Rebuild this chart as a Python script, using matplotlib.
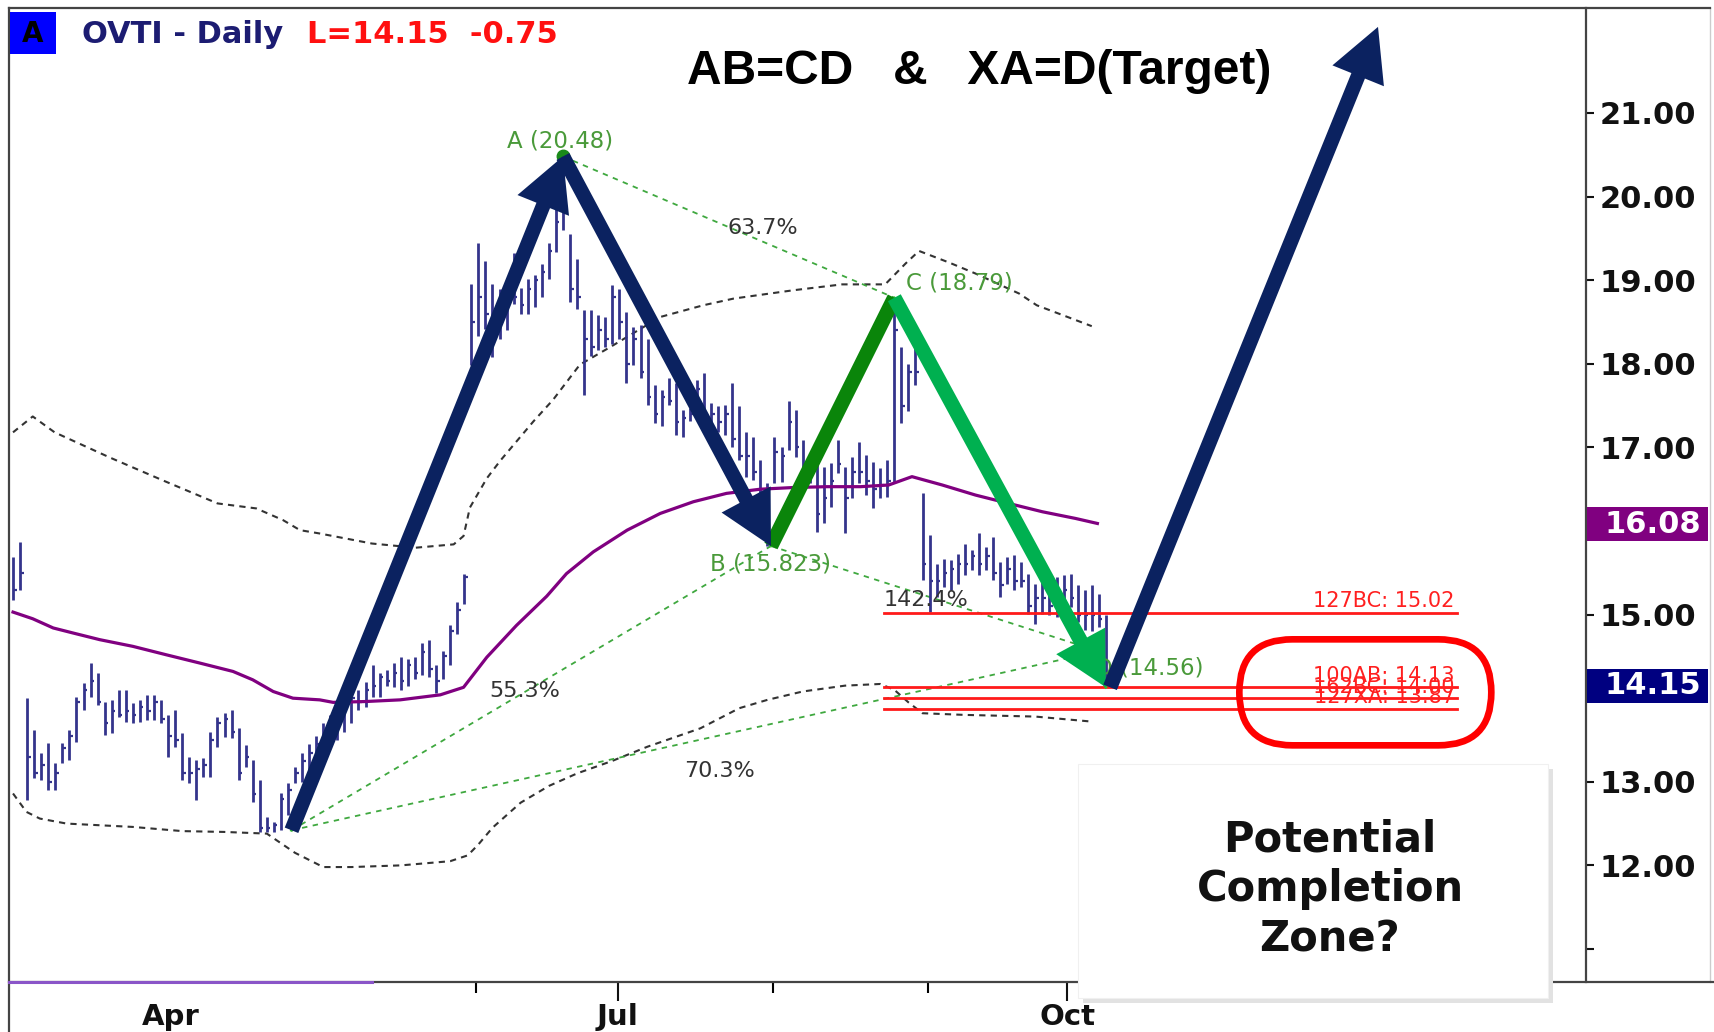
import numpy as np
import matplotlib
matplotlib.use("Agg")
import matplotlib.pyplot as plt
from matplotlib.patches import FancyBboxPatch, Rectangle, ArrowStyle
from matplotlib.lines import Line2D
import matplotlib.transforms as mtransforms

# daily bars (trading day index = position in list)
highs = [15.69, 15.87, 14.00, 13.62, 13.34, 13.46, 13.22, 13.46, 13.62, 14.02,
         14.18, 14.42, 14.30, 13.96, 13.98, 14.10, 14.10, 13.94, 13.98, 14.04,
         14.04, 13.98, 13.80, 13.86, 13.58, 13.30, 13.26, 13.28, 13.60, 13.78,
         13.82, 13.86, 13.64, 13.44, 13.26, 13.02, 12.58, 12.52, 12.86, 12.98,
         13.18, 13.35, 13.45, 13.55, 13.70, 13.80, 13.90, 14.00, 14.10, 14.10,
         14.19, 14.40, 14.30, 14.34, 14.42, 14.49, 14.47, 14.49, 14.66, 14.70,
         14.40, 14.57, 14.87, 15.15, 15.49, 18.95, 19.45, 19.23, 18.95, 18.90,
         19.00, 19.32, 18.91, 19.02, 19.06, 19.19, 19.45, 19.85, 20.48, 19.55,
         19.25, 18.64, 18.64, 18.58, 18.56, 18.94, 18.90, 18.62, 18.44, 18.46,
         18.30, 17.75, 17.69, 17.83, 17.77, 17.45, 17.47, 17.81, 17.89, 17.53,
         17.49, 17.51, 17.77, 17.49, 17.19, 17.13, 16.85, 16.57, 17.13, 17.01,
         17.55, 17.45, 17.09, 16.89, 16.85, 16.77, 16.81, 17.09, 16.77, 16.89,
         17.07, 16.91, 16.83, 16.75, 16.85, 18.79, 18.20, 18.00, 18.20, 16.45,
         15.95, 15.61, 15.67, 15.65, 15.73, 15.85, 15.77, 15.97, 15.81, 15.93,
         15.63, 15.69, 15.71, 15.63, 15.49, 15.37, 15.41, 15.37, 15.45, 15.47,
         15.49, 15.35, 15.29, 15.35, 15.25, 14.99]
lows = [15.17, 15.29, 12.78, 13.04, 13.02, 12.90, 12.90, 13.22, 13.26, 13.48,
        13.86, 14.02, 13.92, 13.56, 13.58, 13.78, 13.72, 13.70, 13.72, 13.74,
        13.74, 13.70, 13.30, 13.42, 13.02, 12.98, 12.78, 13.06, 13.06, 13.42,
        13.54, 13.52, 13.02, 13.18, 12.76, 12.40, 12.40, 12.40, 12.42, 12.60,
        12.98, 13.00, 13.10, 13.20, 13.30, 13.40, 13.50, 13.60, 13.70, 13.86,
        13.89, 14.02, 14.02, 14.15, 14.13, 14.10, 14.15, 14.23, 14.28, 14.25,
        14.06, 14.23, 14.40, 14.77, 15.13, 17.99, 18.33, 18.42, 18.08, 18.30,
        18.40, 18.72, 18.59, 18.59, 18.68, 18.80, 19.02, 19.34, 19.60, 18.74,
        18.66, 17.63, 18.09, 18.16, 18.20, 18.24, 18.30, 17.77, 17.99, 17.83,
        17.51, 17.29, 17.25, 17.51, 17.15, 17.13, 17.31, 17.45, 17.25, 17.21,
        17.19, 17.15, 17.01, 16.85, 16.65, 16.61, 16.25, 15.82, 16.57, 16.59,
        16.97, 16.89, 16.57, 16.57, 15.99, 16.09, 16.29, 16.69, 15.97, 16.39,
        16.57, 16.43, 16.27, 16.39, 16.41, 16.57, 17.29, 17.43, 17.75, 15.41,
        15.03, 15.21, 15.33, 15.29, 15.37, 15.47, 15.53, 15.47, 15.53, 15.41,
        15.21, 15.37, 15.29, 15.33, 15.01, 14.89, 15.01, 14.99, 14.97, 15.13,
        15.09, 14.91, 14.82, 14.80, 14.85, 14.13]
closes = [15.30, 15.50, 13.30, 13.10, 13.20, 13.00, 13.10, 13.40, 13.55, 13.95,
          14.10, 14.20, 13.95, 13.70, 13.85, 13.80, 13.85, 13.80, 13.90, 13.85,
          13.95, 13.75, 13.55, 13.50, 13.10, 13.10, 13.15, 13.20, 13.50, 13.70,
          13.75, 13.60, 13.10, 13.30, 12.85, 12.45, 12.45, 12.48, 12.80, 12.90,
          13.10, 13.25, 13.35, 13.45, 13.60, 13.70, 13.80, 13.90, 14.00, 13.95,
          14.10, 14.15, 14.25, 14.20, 14.30, 14.20, 14.40, 14.30, 14.55, 14.35,
          14.20, 14.50, 14.80, 15.05, 15.45, 18.50, 18.80, 18.60, 18.40, 18.70,
          18.90, 18.80, 18.70, 18.90, 19.00, 19.10, 19.35, 19.70, 19.80, 18.90,
          18.80, 18.30, 18.20, 18.40, 18.30, 18.80, 18.50, 18.00, 18.30, 17.90,
          17.60, 17.40, 17.60, 17.55, 17.30, 17.35, 17.40, 17.70, 17.35, 17.40,
          17.30, 17.40, 17.10, 16.90, 16.90, 16.70, 16.40, 16.50, 16.95, 16.90,
          17.30, 17.00, 16.70, 16.70, 16.20, 16.40, 16.60, 16.80, 16.40, 16.70,
          16.70, 16.60, 16.50, 16.55, 16.60, 18.40, 17.50, 17.90, 17.90, 15.60,
          15.40, 15.40, 15.50, 15.55, 15.60, 15.60, 15.70, 15.60, 15.70, 15.50,
          15.35, 15.55, 15.40, 15.40, 15.10, 15.20, 15.20, 15.10, 15.30, 15.30,
          15.20, 15.00, 15.00, 15.00, 14.95, 14.15]

# moving average (purple)
ma_days = [0, 2.8, 5.7, 8.5, 12.3, 17, 21.7, 26.5, 31.2, 34, 36.9, 39.7, 43.5, 45.4,
           50, 54.9, 60.6, 63.9, 67.2, 71.4, 75.7, 78.5, 82.3, 87.1, 91.8, 96.5,
           101.2, 106, 110.7, 115.4, 120.2, 124.2, 127.5, 131.8, 136.5, 141.2, 146,
           150.7, 153.8]
ma_vals = [15.03, 14.95, 14.84, 14.78, 14.70, 14.62, 14.52, 14.42, 14.32, 14.22,
           14.08, 14.00, 13.98, 13.95, 13.96, 13.98, 14.04, 14.13, 14.49, 14.87,
           15.22, 15.49, 15.75, 16.01, 16.21, 16.35, 16.45, 16.50, 16.52, 16.53,
           16.53, 16.55, 16.65, 16.55, 16.43, 16.33, 16.23, 16.15, 16.09]

# envelope bands (black dashed)
ub_days = [0, 2.8, 5.9, 13.7, 21.4, 29, 34.5, 38.3, 40.7, 43.5, 50.9, 57.1, 62.5,
           63.9, 64.8, 67.2, 69.1, 73.8, 76.6, 80.4, 84.7, 91.8, 97.9, 102.2, 110.7,
           117.6, 123.7, 126.6, 128.5, 132.8, 136.5, 142.7, 145.2, 153]
ub_vals = [17.18, 17.37, 17.18, 16.88, 16.60, 16.33, 16.27, 16.13, 16.01, 15.97,
           15.85, 15.80, 15.84, 15.94, 16.28, 16.63, 16.84, 17.31, 17.57, 17.99,
           18.20, 18.56, 18.70, 18.78, 18.88, 18.95, 18.95, 19.20, 19.35, 19.21,
           19.08, 18.84, 18.70, 18.45]
lb_days = [0, 1.9, 3.8, 7.6, 12.3, 17, 24, 30, 36, 40, 44, 48, 55, 62, 64.5, 66,
           68, 72, 76, 80, 85, 90, 97.5, 103, 107, 112, 118, 123, 125, 127, 129,
           135, 145, 153]
lb_vals = [12.86, 12.64, 12.56, 12.50, 12.48, 12.46, 12.41, 12.40, 12.38, 12.15,
           11.98, 11.98, 12.00, 12.05, 12.12, 12.25, 12.45, 12.75, 12.95, 13.10,
           13.25, 13.42, 13.64, 13.88, 13.98, 14.08, 14.15, 14.17, 14.10, 13.95,
           13.82, 13.80, 13.78, 13.72]

# pattern points
X = (39.5, 12.42)
A = (78, 20.48)
B = (107.5, 15.82)
C = (125, 18.79)
D = (155, 14.13)
D_fib = (154, 14.56)
T = (193.6, 22.03)

# red projection levels
lvl_vals = [15.02, 14.13, 14.00, 13.87]
lvl_labels = ["127BC: 15.02", "100AB: 14.13", "162BC: 14.00", "127XA: 13.87"]

month_pos = [22.3, 85.8, 149.5]
month_lbl = ["Apr", "Jul", "Oct"]
minor_pos = [65.7, 107.8, 129.8]

W, H = 1715, 1032
fig = plt.figure(figsize=(W / 100, H / 100), dpi=100)
ax = fig.add_axes([9 / W, 1 - 982 / H, (1586 - 9) / W, (982 - 8) / H])
ax.set_xlim(-0.57, 223.1)
ax.set_ylim(10.605, 22.256)
for s in ax.spines.values():
    s.set_visible(False)

bar_c = "#34348c"
d = np.arange(len(highs))
ax.vlines(d, lows, highs, color=bar_c, lw=2.0, zorder=3)
ax.hlines(closes, d, d + 0.5, color=bar_c, lw=1.6, zorder=3)

ax.plot(ma_days, ma_vals, color="#800080", lw=2.3, zorder=4)
ax.plot(ub_days, ub_vals, color="#333333", lw=1.5, ls=(0, (3, 2.5)), zorder=2)
ax.plot(lb_days, lb_vals, color="#333333", lw=1.5, ls=(0, (3, 2.5)), zorder=2)

g_dash = "#3fa83f"
for p, q in [(A, C), (X, B), (X, D_fib), (B, D_fib)]:
    ax.plot([p[0], q[0]], [p[1], q[1]], color=g_dash, lw=1.3, ls=(0, (3, 3)), zorder=2)
ax.plot([X[0], A[0], B[0], C[0], D[0]], [X[1], A[1], B[1], C[1], D[1]],
        color="#33bb33", lw=2, zorder=5)
ax.plot(A[0], A[1], "o", color="#1a8a1a", ms=9, zorder=5)

# red levels
for v, lab in zip(lvl_vals, lvl_labels):
    ax.plot([123.5, 204.8], [v, v], color="#ff1a1a", lw=2, zorder=4)
    ax.text(204.5, v + 0.02, lab, color="#ff2020", fontsize=15, ha="right",
            va="bottom", zorder=4)

# labels
lab_c = "#4a9a3a"
ax.text(A[0] - 0.4, 20.66, "A (20.48)", color=lab_c, fontsize=16.5, ha="center", va="center")
ax.text(B[0], 15.61, "B (15.823)", color=lab_c, fontsize=16.5, ha="center", va="center")
ax.text(126.7, 18.97, "C (18.79)", color=lab_c, fontsize=16.5, ha="left", va="center")
ax.text(168.9, 14.36, "D (14.56)", color=lab_c, fontsize=16.5, ha="right", va="center", zorder=3)
pct_c = "#333333"
ax.text(106.3, 19.63, "63.7%", color=pct_c, fontsize=16, ha="center", va="center")
ax.text(72.6, 14.08, "55.3%", color=pct_c, fontsize=16, ha="center", va="center")
ax.text(100.2, 13.13, "70.3%", color=pct_c, fontsize=16, ha="center", va="center")
ax.text(123.5, 15.18, "142.4%", color=pct_c, fontsize=16, ha="left", va="center")

# big arrows
navy = "#0b2260"


def big_arrow(p0, p1, color):
    style = ArrowStyle.Simple(head_length=38, head_width=40, tail_width=10.5)
    ax.annotate("", xy=p1, xytext=p0, zorder=7,
                arrowprops=dict(arrowstyle=style, fc=color, ec="none", lw=0,
                                mutation_scale=1, shrinkA=0, shrinkB=0))


ax.plot([B[0], C[0]], [B[1], C[1]], color="#0a850a", lw=10.5, solid_capstyle="butt", zorder=7)
big_arrow(X, A, navy)
big_arrow(A, B, navy)
big_arrow(C, D, "#00b050")
big_arrow((D[0] + 0.6, D[1]), T, navy)

# red rounded zone
fig.canvas.draw()
cx, cy = ax.transData.transform((191.8, 14.07))
zone = FancyBboxPatch((cx - 126, cy - 53), 252, 106,
                      boxstyle="round,pad=0,rounding_size=53",
                      transform=mtransforms.IdentityTransform(),
                      fc="none", ec="#ff0000", lw=4.8, zorder=8)
ax.add_artist(zone)

# axes ticks
ax.yaxis.tick_right()
yt = list(range(11, 22))
ax.set_yticks(yt)
ax.set_yticklabels(["" if v in (11, 14, 16) else f"{v:.2f}" for v in yt],
                   fontsize=22, fontweight="bold")
ax.tick_params(axis="y", direction="out", length=6, width=1.5, pad=4, colors="#111111")
ax.set_xticks(month_pos)
ax.set_xticklabels(month_lbl, fontsize=21, fontweight="bold")
ax.set_xticks(minor_pos, minor=True)
ax.tick_params(axis="x", which="major", length=14, width=1.5, pad=1, colors="#111111")
ax.tick_params(axis="x", which="minor", length=8, width=1.5)
ax.xaxis.get_major_ticks()[0].tick1line.set_visible(False)

# value boxes on the price scale
for val, col in [(16.08, "#800080"), (14.15, "#000080")]:
    yb = ax.transData.transform((0, val))[1] / H
    fig.add_artist(Rectangle((1587 / W, yb - 17 / H), 121 / W, 34 / H,
                             transform=fig.transFigure, fc=col, ec="none", zorder=5))
    fig.text(1605 / W, yb, f"{val:.2f}", color="white", fontsize=22,
             fontweight="bold", va="center", ha="left", zorder=6)

# frame lines
fc = "#444444"
for xs, ys in [([9, 1710], [8, 8]), ([9, 9], [8, 1032]), ([9, 1715], [982, 982]),
               ([1586, 1586], [8, 982])]:
    fig.add_artist(Line2D([x / W for x in xs], [1 - y / H for y in ys],
                          color=fc, lw=1.6, zorder=4))
fig.add_artist(Line2D([1710 / W, 1710 / W], [1 - 8 / H, 1 - 982 / H], color="#cccccc", lw=1))
fig.add_artist(Line2D([9 / W, 372 / W], [1 - 982 / H] * 2, color="#8a55c8", lw=2.2, zorder=5))

# header
fig.add_artist(Rectangle((10 / W, 1 - 54 / H), 46 / W, 42 / H, transform=fig.transFigure,
                         fc="#0000ff", ec="none", zorder=5))
fig.text(33 / W, 1 - 34 / H, "A", fontsize=20, fontweight="bold", color="black",
         ha="center", va="center", zorder=6)
fig.text(82 / W, 1 - 34 / H, "OVTI - Daily", fontsize=22, fontweight="bold",
         color="#1c1c72", ha="left", va="center")
fig.text(307 / W, 1 - 34 / H, "L=14.15  -0.75", fontsize=22, fontweight="bold",
         color="#ff1010", ha="left", va="center")

fig.text(979 / W, 1 - 71 / H, "AB=CD   &   XA=D(Target)", fontsize=34.5, fontweight="bold",
         family=["Liberation Sans Narrow", "Liberation Sans", "DejaVu Sans"],
         ha="center", va="center", color="black")

# note box
fig.add_artist(Rectangle((1083 / W, 1 - 1003 / H), 470 / W, 234 / H, transform=fig.transFigure,
                         fc="#e2e2e2", ec="none", zorder=9))
fig.add_artist(Rectangle((1078 / W, 1 - 998 / H), 470 / W, 234 / H, transform=fig.transFigure,
                         fc="white", ec="#f0f0f0", lw=0.8, zorder=10))
for txt, yy in [("Potential", 840), ("Completion", 889), ("Zone?", 939)]:
    fig.text(1330 / W, 1 - yy / H, txt, fontsize=30, fontweight="bold", color="#111111",
             ha="center", va="center", zorder=11)

fig.savefig("out.png", dpi=100)
